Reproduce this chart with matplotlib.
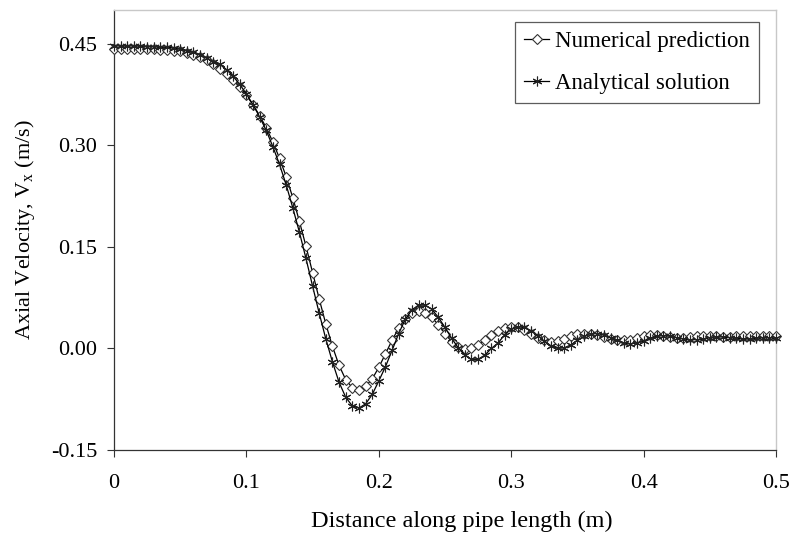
import numpy as np
import matplotlib
matplotlib.use("Agg")
import matplotlib.pyplot as plt
from matplotlib.ticker import FormatStrFormatter

plt.rcParams['font.family'] = ['Liberation Serif', 'DejaVu Serif']
plt.rcParams['mathtext.fontset'] = 'custom'
plt.rcParams['mathtext.rm'] = 'Liberation Serif'
plt.rcParams['mathtext.it'] = 'Liberation Serif:italic'

# Distance along pipe (m): grid of 101 stations, 0.005 m apart
distance = np.round(np.arange(101) * 0.005, 3)

numerical = [
    0.442, 0.442, 0.442, 0.442, 0.442, 0.442, 0.442, 0.441, 0.441, 0.440,
    0.439, 0.437, 0.434, 0.431, 0.426, 0.420, 0.413, 0.405, 0.396, 0.386,
    0.374, 0.360, 0.344, 0.326, 0.305, 0.281, 0.254, 0.223, 0.188, 0.151,
    0.112, 0.073, 0.036, 0.003, -0.025, -0.046, -0.058, -0.061, -0.056, -0.045,
    -0.028, -0.008, 0.012, 0.030, 0.044, 0.052, 0.055, 0.053, 0.046, 0.035,
    0.022, 0.010, 0.002, -0.001, 0.000, 0.005, 0.012, 0.020, 0.026, 0.030,
    0.032, 0.031, 0.028, 0.022, 0.016, 0.012, 0.010, 0.011, 0.014, 0.018,
    0.021, 0.022, 0.022, 0.020, 0.017, 0.014, 0.012, 0.012, 0.013, 0.015,
    0.018, 0.020, 0.020, 0.019, 0.017, 0.016, 0.016, 0.017, 0.018, 0.019,
    0.019, 0.018, 0.017, 0.017, 0.018, 0.019, 0.019, 0.018, 0.018, 0.018,
    0.018,
]

analytical = [
    0.447, 0.447, 0.447, 0.447, 0.447, 0.446, 0.446, 0.445, 0.445, 0.444,
    0.442, 0.440, 0.438, 0.434, 0.429, 0.423, 0.420, 0.412, 0.402, 0.390,
    0.376, 0.360, 0.342, 0.322, 0.298, 0.272, 0.242, 0.208, 0.172, 0.133,
    0.092, 0.052, 0.014, -0.020, -0.050, -0.072, -0.085, -0.088, -0.082, -0.068,
    -0.048, -0.027, -0.003, 0.022, 0.043, 0.057, 0.064, 0.064, 0.058, 0.046,
    0.031, 0.015, 0.001, -0.010, -0.016, -0.016, -0.010, 0.000, 0.008, 0.020,
    0.029, 0.032, 0.031, 0.026, 0.019, 0.011, 0.004, 0.000, 0.001, 0.005,
    0.012, 0.018, 0.022, 0.022, 0.020, 0.016, 0.012, 0.008, 0.007, 0.008,
    0.011, 0.015, 0.018, 0.019, 0.018, 0.016, 0.014, 0.013, 0.013, 0.014,
    0.016, 0.017, 0.017, 0.016, 0.015, 0.014, 0.014, 0.015, 0.016, 0.016,
    0.015,
]

x_ticks = [0, 0.1, 0.2, 0.3, 0.4, 0.5]
x_tick_labels = ["0", "0.1", "0.2", "0.3", "0.4", "0.5"]
y_ticks = [-0.15, 0.00, 0.15, 0.30, 0.45]

fig = plt.figure(figsize=(7.91, 5.36), dpi=100)
ax = fig.add_axes([114 / 791, 1 - 450 / 536, (776 - 114) / 791, (450 - 10) / 536])

ax.plot(distance, numerical, color='black', lw=0.9, marker='D', ms=4.8,
        mfc='white', mec='#333333', mew=0.8, clip_on=False,
        label='Numerical prediction', zorder=3)
ax.plot(distance, analytical, color='black', lw=0.9, marker=(6, 2, 0), ms=7,
        mec='#222222', mew=0.8, clip_on=False,
        label='Analytical solution', zorder=4)

ax.set_xlim(0, 0.5)
ax.set_ylim(-0.15, 0.5)
ax.set_xticks(x_ticks)
ax.set_xticklabels(x_tick_labels)
ax.set_yticks(y_ticks)
ax.yaxis.set_major_formatter(FormatStrFormatter('%.2f'))

ax.tick_params(axis='both', direction='out', length=5, width=0.8,
               labelsize=16, color='#333333')
ax.tick_params(axis='y', pad=7)
ax.tick_params(axis='x', pad=12)

for side in ['left', 'bottom']:
    ax.spines[side].set_color('#333333')
    ax.spines[side].set_linewidth(0.9)
for side in ['top', 'right']:
    ax.spines[side].set_color('#c8c8c8')
    ax.spines[side].set_linewidth(1.0)

ax.set_xlabel('Distance along pipe length (m)', fontsize=17.5, labelpad=6)
ax.xaxis.set_label_coords((462 - 114) / 662, -0.138)
ax.set_ylabel(r'Axial Velocity, V$_{\mathregular{x}}$ (m/s)', fontsize=16, labelpad=10)

leg = ax.legend(loc='upper right', bbox_to_anchor=(759 / 791, 1 - 22 / 536),
                bbox_transform=fig.transFigure, fontsize=16.5, frameon=True,
                fancybox=False, handlelength=1.1, handletextpad=0.25,
                borderpad=0.4, labelspacing=0.9, borderaxespad=0)
leg.get_frame().set_edgecolor('#333333')
leg.get_frame().set_linewidth(0.9)

fig.savefig('out.png', dpi=100)
